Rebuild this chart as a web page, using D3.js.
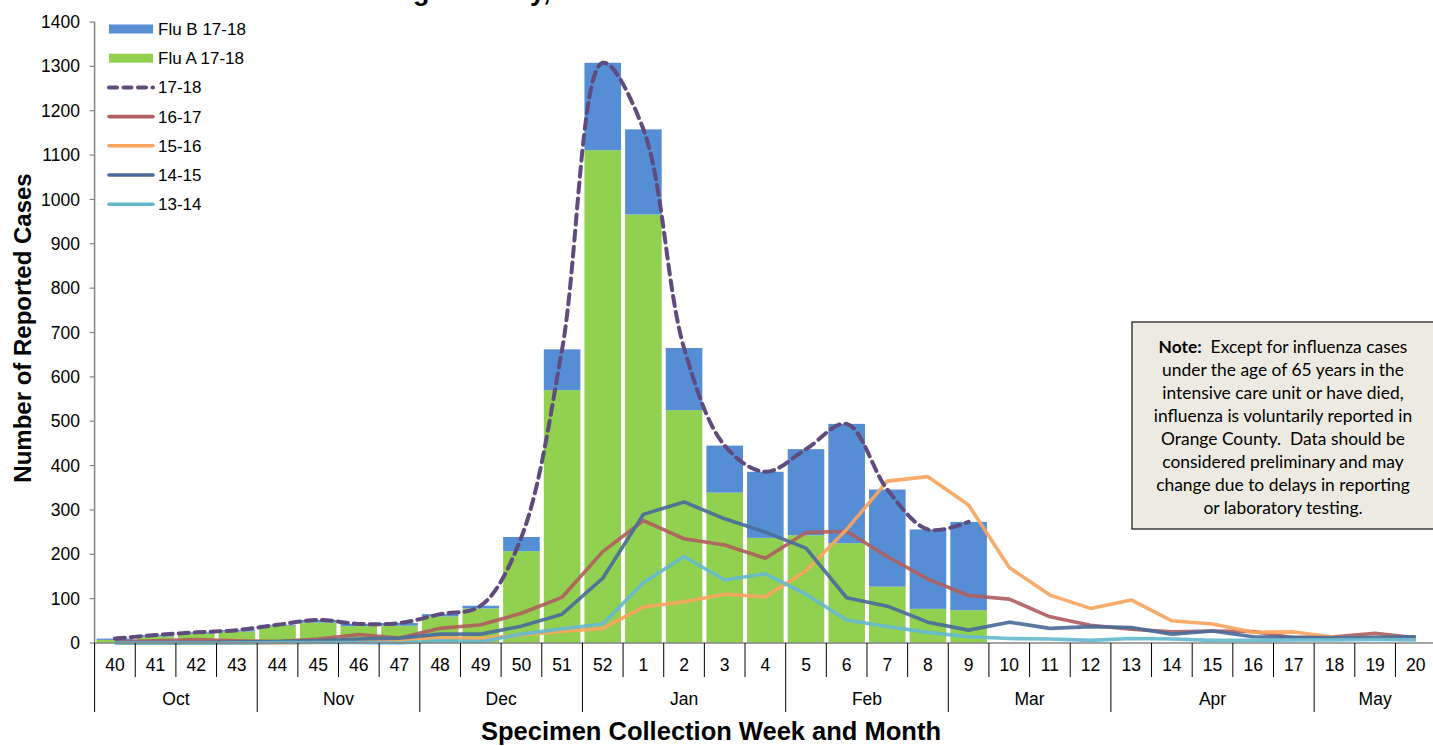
<!DOCTYPE html>
<html>
<head>
<meta charset="utf-8">
<script src="https://cdn.jsdelivr.net/npm/d3@7/dist/d3.min.js"></script>
<style>
  html, body { margin: 0; padding: 0; background: #fff; }
  svg { display: block; font-family: "Liberation Sans", Arial, sans-serif; }
</style>
</head>
<body>
<svg id="chart" width="1433" height="746"></svg>
<script>
// Specimen collection weeks (season runs from week 40 to week 20)
const weeks = ["40","41","42","43","44","45","46","47","48","49","50","51","52",
  "1","2","3","4","5","6","7","8","9","10","11","12","13","14","15","16","17","18","19","20"];

// Month groupings along the x axis
const months = [
  { name: "Oct", weeks: ["40","41","42","43"] },
  { name: "Nov", weeks: ["44","45","46","47"] },
  { name: "Dec", weeks: ["48","49","50","51"] },
  { name: "Jan", weeks: ["52","1","2","3","4"] },
  { name: "Feb", weeks: ["5","6","7","8"] },
  { name: "Mar", weeks: ["9","10","11","12"] },
  { name: "Apr", weeks: ["13","14","15","16","17"] },
  { name: "May", weeks: ["18","19","20"] }
];

// 2017-18 season cases by type (weeks 40 through 9)
const fluA1718 = [7, 15, 21, 26, 39, 46, 38, 39, 60, 78, 207, 570, 1111, 966, 525, 339, 237, 243, 225, 127, 77, 74];
const fluB1718 = [3, 3, 3, 3, 2, 6, 5, 6, 5, 6, 32, 92, 197, 192, 140, 106, 149, 194, 269, 219, 179, 199];

// Season totals
const season1718 = [10, 18, 24, 29, 41, 52, 43, 45, 65, 84, 239, 662, 1308, 1158, 665, 445, 386, 437, 494, 346, 256, 273];
const season1617 = [3, 5, 8, 5, 3, 9, 19, 11, 33, 41, 67, 103, 206, 276, 235, 221, 191, 249, 252, 195, 144, 107, 99, 59, 40, 31, 25, 27, 26, 12, 14, 22, 12];
const season1516 = [0, 0, 0, 0, 0, 2, 4, 8, 12, 10, 18, 26, 33, 81, 93, 110, 104, 163, 256, 365, 375, 311, 170, 108, 78, 97, 50, 43, 24, 25, 13, 12, 8];
const season1415 = [1, 1, 1, 2, 3, 5, 9, 11, 20, 20, 38, 65, 146, 290, 318, 280, 250, 214, 102, 83, 47, 29, 47, 33, 37, 35, 20, 27, 14, 13, 12, 13, 14];
const season1314 = [0, 0, 0, 0, 1, 1, 1, 0, 5, 3, 20, 32, 43, 136, 195, 142, 156, 110, 52, 37, 24, 14, 10, 9, 6, 10, 9, 6, 6, 7, 7, 8, 7];

const yTicks = [0,100,200,300,400,500,600,700,800,900,1000,1100,1200,1300,1400];

const noteLines = [
  "Except for influenza cases",
  "under the age of 65 years in the",
  "intensive care unit or have died,",
  "influenza is voluntarily reported in",
  "Orange County.\u00A0 Data should be",
  "considered preliminary and may",
  "change due to delays in reporting",
  "or laboratory testing."
];

const colors = {
  fluB: "#558ED5",
  fluA: "#92D050",
  s1718: "#5F4B7E",
  s1617: "#B0605F",
  s1516: "#F9A55E",
  s1415: "#4B6D9A",
  s1314: "#66B8CF"
};

const svg = d3.select("#chart");

const plot = { left: 94.6, right: 1436.1, top: 22, bottom: 643 };

const x = d3.scaleBand()
  .domain(weeks)
  .range([plot.left, plot.right])
  .paddingInner(0.1)
  .paddingOuter(0.05);

const y = d3.scaleLinear().domain([0, 1400]).range([plot.bottom, plot.top]);

const step = x.step();
const cx = w => x(w) + x.bandwidth() / 2;
const boundary = i => plot.left + step * i;

// Title (runs off the top edge)
const titleText = "Influenza Cases in Orange County, 2013-14 to 2017-18 Seasons";
const titleSize = 27;
const tmp = svg.append("text").attr("font-size", titleSize).attr("font-weight", "bold").text("Influenza Cases in Oran");
const prefixW = tmp.node().getComputedTextLength();
tmp.remove();
svg.append("text")
  .attr("x", 413 - prefixW)
  .attr("y", 0)
  .attr("font-size", titleSize)
  .attr("font-weight", "bold")
  .attr("fill", "#000")
  .text(titleText);

// Stacked bars: Flu A at the bottom, Flu B on top
const barData = fluA1718.map((a, i) => ({ week: weeks[i], a, b: fluB1718[i] }));
const bars = svg.append("g");
bars.selectAll("rect.a").data(barData).join("rect")
  .attr("x", d => x(d.week))
  .attr("width", x.bandwidth())
  .attr("y", d => y(d.a))
  .attr("height", d => y(0) - y(d.a))
  .attr("fill", colors.fluA);
bars.selectAll("rect.b").data(barData).join("rect")
  .attr("x", d => x(d.week))
  .attr("width", x.bandwidth())
  .attr("y", d => y(d.a + d.b))
  .attr("height", d => y(d.a) - y(d.a + d.b))
  .attr("fill", colors.fluB);

// Previous seasons as straight-segment lines
const straight = d3.line().x((d, i) => cx(weeks[i])).y(d => y(d));
const prior = [
  { values: season1617, color: colors.s1617 },
  { values: season1516, color: colors.s1516 },
  { values: season1415, color: colors.s1415 },
  { values: season1314, color: colors.s1314 }
];
const lines = svg.append("g");
prior.forEach(s => {
  lines.append("path")
    .attr("d", straight(s.values))
    .attr("fill", "none")
    .attr("stroke", s.color)
    .attr("stroke-width", 3.6)
    .attr("stroke-opacity", 0.92)
    .attr("stroke-linejoin", "round");
});

// Current season as a smoothed dashed line
const smooth = d3.line().x((d, i) => cx(weeks[i])).y(d => y(d)).curve(d3.curveCatmullRom.alpha(0.5));
lines.append("path")
  .attr("d", smooth(season1718))
  .attr("fill", "none")
  .attr("stroke", colors.s1718)
  .attr("stroke-width", 4)
  .attr("stroke-dasharray", "10,6")
  .attr("stroke-linecap", "round");

// Y axis
const axisColor = "#868686";
const yAxis = svg.append("g");
yAxis.append("line")
  .attr("x1", plot.left).attr("x2", plot.left)
  .attr("y1", plot.top).attr("y2", plot.bottom)
  .attr("stroke", axisColor).attr("stroke-width", 1.5);
yTicks.forEach(t => {
  yAxis.append("line")
    .attr("x1", plot.left - 5).attr("x2", plot.left)
    .attr("y1", y(t)).attr("y2", y(t))
    .attr("stroke", axisColor).attr("stroke-width", 1.2);
  yAxis.append("text")
    .attr("x", 80).attr("y", y(t))
    .attr("dy", "0.35em")
    .attr("text-anchor", "end")
    .attr("font-size", 17.5)
    .attr("fill", "#000")
    .text(t);
});

// X axis: baseline, week ticks and labels, month separators and labels
const xAxis = svg.append("g");
xAxis.append("line")
  .attr("x1", plot.left).attr("x2", plot.right)
  .attr("y1", plot.bottom).attr("y2", plot.bottom)
  .attr("stroke", axisColor).attr("stroke-width", 1.5);

const monthStarts = new Set();
let idx = 0;
months.forEach(m => { monthStarts.add(idx); idx += m.weeks.length; });
monthStarts.add(weeks.length);

for (let i = 0; i <= weeks.length; i++) {
  const bx = boundary(i);
  xAxis.append("line")
    .attr("x1", bx).attr("x2", bx)
    .attr("y1", plot.bottom)
    .attr("y2", monthStarts.has(i) ? 712 : 677)
    .attr("stroke", "#000").attr("stroke-width", 1);
}
weeks.forEach(w => {
  xAxis.append("text")
    .attr("x", cx(w)).attr("y", 671)
    .attr("text-anchor", "middle")
    .attr("font-size", 17.5)
    .attr("fill", "#000")
    .text(w);
});
months.forEach(m => {
  const x0 = x(m.weeks[0]) - step * x.paddingInner() / 2;
  const x1 = x(m.weeks[m.weeks.length - 1]) + x.bandwidth() + step * x.paddingInner() / 2;
  xAxis.append("text")
    .attr("x", (x0 + x1) / 2).attr("y", 705)
    .attr("text-anchor", "middle")
    .attr("font-size", 17.5)
    .attr("fill", "#000")
    .text(m.name);
});

// Axis titles
svg.append("text")
  .attr("x", 711).attr("y", 740)
  .attr("text-anchor", "middle")
  .attr("font-size", 25.5)
  .attr("font-weight", "bold")
  .text("Specimen Collection Week and Month");
svg.append("text")
  .attr("transform", "translate(31,328) rotate(-90)")
  .attr("text-anchor", "middle")
  .attr("font-size", 24)
  .attr("font-weight", "bold")
  .text("Number of Reported Cases");

// Legend
const legendItems = [
  { label: "Flu B 17-18", color: colors.fluB, type: "bar" },
  { label: "Flu A 17-18", color: colors.fluA, type: "bar" },
  { label: "17-18", color: colors.s1718, type: "dash" },
  { label: "16-17", color: colors.s1617, type: "line" },
  { label: "15-16", color: colors.s1516, type: "line" },
  { label: "14-15", color: colors.s1415, type: "line" },
  { label: "13-14", color: colors.s1314, type: "line" }
];
const legend = svg.append("g");
legendItems.forEach((it, i) => {
  const ly = 29 + i * 29.2;
  if (it.type === "bar") {
    legend.append("rect")
      .attr("x", 109).attr("y", ly - 4.5)
      .attr("width", 44).attr("height", 9)
      .attr("fill", it.color);
  } else {
    legend.append("line")
      .attr("x1", 109).attr("x2", 153)
      .attr("y1", ly).attr("y2", ly)
      .attr("stroke", it.color)
      .attr("stroke-width", it.type === "dash" ? 4 : 3.6)
      .attr("stroke-linecap", "round")
      .attr("stroke-dasharray", it.type === "dash" ? "8,6.5" : null);
  }
  legend.append("text")
    .attr("x", 158).attr("y", ly)
    .attr("dy", "0.35em")
    .attr("font-size", 17)
    .attr("fill", "#000")
    .text(it.label);
});

// Note box
const note = svg.append("g");
note.append("rect")
  .attr("x", 1132).attr("y", 322)
  .attr("width", 310).attr("height", 207)
  .attr("fill", "#EDEBE1")
  .attr("stroke", "#222")
  .attr("stroke-width", 1.3);
noteLines.forEach((line, i) => {
  const t = note.append("text")
    .attr("x", 1283).attr("y", 353 + i * 23)
    .attr("text-anchor", "middle")
    .attr("font-family", "Lato, 'Open Sans', sans-serif")
    .attr("font-size", 17.4)
    .attr("fill", "#000");
  if (i === 0) {
    t.append("tspan").attr("font-weight", "bold").text("Note:");
    t.append("tspan").text("\u00A0 " + line);
  } else {
    t.text(line);
  }
});
</script>
</body>
</html>
